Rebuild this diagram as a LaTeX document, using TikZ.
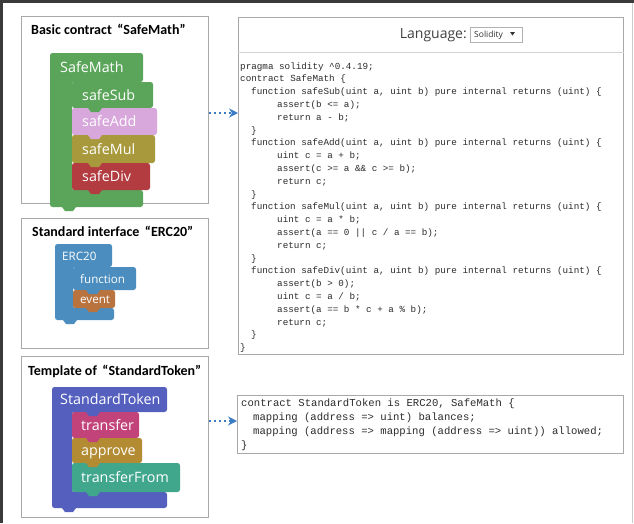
\documentclass[tikz,border=0pt]{standalone}
\usepackage{fontspec}
\setmainfont{Open Sans}
\newfontfamily\titlefont{Carlito}
\newfontfamily\codefont{Liberation Mono}
\newfontfamily\blockfont{Open Sans}
\usetikzlibrary{arrows.meta}

\definecolor{framedark}{HTML}{3A3A3A}
\definecolor{panelgray}{HTML}{A8A8A8}
\definecolor{codegray}{HTML}{2C2C2C}
\definecolor{arrowblue}{HTML}{3B7CC4}
\definecolor{mathgreen}{HTML}{5BA55B}
\definecolor{addpink}{HTML}{D8A8DC}
\definecolor{mulolive}{HTML}{A89A3C}
\definecolor{divred}{HTML}{B23C40}
\definecolor{ercblue}{HTML}{4A8DBE}
\definecolor{evbrown}{HTML}{B8733F}
\definecolor{tokindigo}{HTML}{5560BE}
\definecolor{trmagenta}{HTML}{C2427A}
\definecolor{apolive}{HTML}{B38B33}
\definecolor{tfteal}{HTML}{40A68C}

% small connection tab hanging below a block edge
\newcommand\blocktab[3]{\fill[#3] (#1,#2) -- ++(3,4) -- ++(8,0) -- ++(3,-4) -- cycle;}

\begin{document}
\begin{tikzpicture}[x=1pt,y=-1pt,
  panel/.style={draw=panelgray, line width=0.9pt, fill=white, anchor=north west,
    inner sep=0pt},
  paneltitle/.style={font=\titlefont\bfseries\fontsize{14}{16}\selectfont,
    anchor=base west, inner sep=0pt, text=black},
  lbl/.style={font=\blockfont\fontsize{14.3}{17}\selectfont, text=white,
    anchor=base west, inner sep=0pt},
  lblsm/.style={font=\blockfont\fontsize{11.6}{14}\selectfont, text=white,
    anchor=base west, inner sep=0pt},
  code/.style={font=\codefont\fontsize{9.27}{11}\selectfont, text=codegray,
    anchor=base west, inner sep=0pt},
  codebig/.style={font=\codefont\fontsize{10.6}{12}\selectfont, text=codegray,
    anchor=base west, inner sep=0pt},
  flow/.style={draw=arrowblue, line width=1.5pt, dash pattern=on 2.5pt off 2.5pt,
    -{Stealth[length=9pt,width=9pt]}},
  blockshape/.style={rounded corners=2.5pt}
]
\useasboundingbox (0,0) rectangle (634,523);
\fill[white] (0,0) rectangle (634,523);

% outer frame
\draw[framedark, line width=3pt] (0,1.5) -- (634,1.5);
\draw[framedark, line width=3pt] (1.5,0) -- (1.5,523);
\draw[gray!40, line width=0.8pt] (632.5,3) -- (632.5,523);

% ---------- left panels ----------
\node[panel, minimum width=187pt, minimum height=187pt] (box1) at (21,16) {};
\node[panel, minimum width=187pt, minimum height=130pt] (box2) at (21,218) {};
\node[panel, minimum width=187pt, minimum height=161pt] (box3) at (21,356) {};

\node[paneltitle] (t1) at (31,34) {Basic contract \,“SafeMath”};
\node[paneltitle] (t2) at (32,236) {Standard interface \,“ERC20”};
\node[paneltitle] (t3) at (28,375) {Template of \,“StandardToken”};

% SafeMath block
\fill[mathgreen, blockshape] (50,53) -- (143,53) -- (143,82) -- (72,82) -- (72,190)
  -- (143,190) -- (143,207) -- (50,207) -- cycle;
\fill[mathgreen, blockshape] (72,82) rectangle (153,108);
\fill[addpink, blockshape] (72,108) rectangle (157,135);
\fill[mulolive, blockshape] (72,135) rectangle (155,163);
\fill[divred, blockshape] (72,163) rectangle (150,190);
\blocktab{88}{108}{mathgreen}
\blocktab{88}{135}{addpink}
\blocktab{88}{163}{mulolive}
\blocktab{88}{190}{divred}
\blocktab{62}{207}{mathgreen}
\node[lbl] (sm) at (60,72.5) {SafeMath};
\node[lbl] (ssub) at (82,100) {safeSub};
\node[lbl] (sadd) at (82,126.5) {safeAdd};
\node[lbl] (smul) at (82,154) {safeMul};
\node[lbl] (sdiv) at (82,181.5) {safeDiv};

% ERC20 block
\fill[ercblue, blockshape] (55,244) -- (112,244) -- (112,267) -- (73,267) -- (73,308)
  -- (114,308) -- (114,320) -- (55,320) -- cycle;
\fill[ercblue, blockshape] (73,267) rectangle (136,290);
\fill[evbrown, blockshape] (73,290) rectangle (115,308);
\blocktab{86}{290}{ercblue}
\blocktab{86}{308}{evbrown}
\blocktab{63}{320}{ercblue}
\node[lblsm] (erc) at (62,260) {ERC20};
\node[lblsm] (efun) at (80,283) {function};
\node[lblsm] (eev) at (80,303) {event};

% StandardToken block
\fill[tokindigo, blockshape] (52,387) -- (167,387) -- (167,412) -- (72,412) -- (72,492)
  -- (167,492) -- (167,508) -- (52,508) -- cycle;
\fill[trmagenta, blockshape] (72,412) rectangle (139,438);
\fill[apolive, blockshape] (72,438) rectangle (142,463);
\fill[tfteal, blockshape] (72,463) rectangle (180,492);
\blocktab{86}{412}{tokindigo}
\blocktab{86}{438}{trmagenta}
\blocktab{86}{463}{apolive}
\blocktab{86}{492}{tfteal}
\blocktab{62}{508}{tokindigo}
\node[lbl] (st) at (60,404.5) {StandardToken};
\node[lbl] (ttr) at (81,430) {transfer};
\node[lbl] (tap) at (81,455.5) {approve};
\node[lbl] (ttf) at (81,482.5) {transferFrom};

% ---------- code panels ----------
\node[panel, minimum width=385pt, minimum height=337pt] (code1) at (238,17) {};
\node[panel, minimum width=386pt, minimum height=58pt] (code2) at (237,395) {};

% language selector header
\draw[gray!35, line width=0.8pt] (code1.west |- 0,52) -- (code1.east |- 0,52);
\node[font=\fontsize{14}{16}\selectfont, text=black!75, anchor=base east, inner sep=0pt]
  (lang) at (467,38) {Language:};
\node[draw=gray!60, line width=0.6pt, fill=white, anchor=north west, inner sep=0pt,
  minimum width=52pt, minimum height=15pt] (sel) at (470,27) {};
\node[font=\fontsize{8.5}{10}\selectfont, text=black!80, anchor=base west, inner sep=0pt]
  (selt) at (474,37.5) {Solidity};
\fill[black!80] (510,32) -- (515,32) -- (512.5,35.5) -- cycle;

% SafeMath source
\def\xa{240}\def\xb{251}\def\xc{277}
\node[code] (c1)  at (\xa, 69.0) {pragma solidity \textasciicircum0.4.19;};
\node[code] (c2)  at (\xa, 81.8) {contract SafeMath \{};
\node[code] (c3)  at (\xb, 94.6) {function safeSub(uint a, uint b) pure internal returns (uint) \{};
\node[code] (c4)  at (\xc,107.4) {assert(b <= a);};
\node[code] (c5)  at (\xc,120.2) {return a - b;};
\node[code] (c6)  at (\xb,133.0) {\}};
\node[code] (c7)  at (\xb,145.8) {function safeAdd(uint a, uint b) pure internal returns (uint) \{};
\node[code] (c8)  at (\xc,158.6) {uint c = a + b;};
\node[code] (c9)  at (\xc,171.4) {assert(c >= a \&\& c >= b);};
\node[code] (c10) at (\xc,184.2) {return c;};
\node[code] (c11) at (\xb,197.0) {\}};
\node[code] (c12) at (\xb,209.8) {function safeMul(uint a, uint b) pure internal returns (uint) \{};
\node[code] (c13) at (\xc,222.6) {uint c = a * b;};
\node[code] (c14) at (\xc,235.4) {assert(a == 0 || c / a == b);};
\node[code] (c15) at (\xc,248.2) {return c;};
\node[code] (c16) at (\xb,261.0) {\}};
\node[code] (c17) at (\xb,273.8) {function safeDiv(uint a, uint b) pure internal returns (uint) \{};
\node[code] (c18) at (\xc,286.6) {assert(b > 0);};
\node[code] (c19) at (\xc,299.4) {uint c = a / b;};
\node[code] (c20) at (\xc,312.2) {assert(a == b * c + a \% b);};
\node[code] (c21) at (\xc,325.0) {return c;};
\node[code] (c22) at (\xb,337.8) {\}};
\node[code] (c23) at (\xa,350.6) {\}};

% StandardToken source
\node[codebig] (d1) at (241,406.5) {contract StandardToken is ERC20, SafeMath \{};
\node[codebig] (d2) at (253,420.5) {mapping (address => uint) balances;};
\node[codebig] (d3) at (253,434.5) {mapping (address => mapping (address => uint)) allowed;};
\node[codebig] (d4) at (241,448.5) {\}};

% ---------- connectors ----------
\coordinate (row1) at (0,113);
\coordinate (row2) at (0,421);
\draw[flow] (box1.east |- row1) -- (code1.west |- row1);
\draw[flow] (box3.east |- row2) -- (code2.west |- row2);
\end{tikzpicture}
\end{document}
